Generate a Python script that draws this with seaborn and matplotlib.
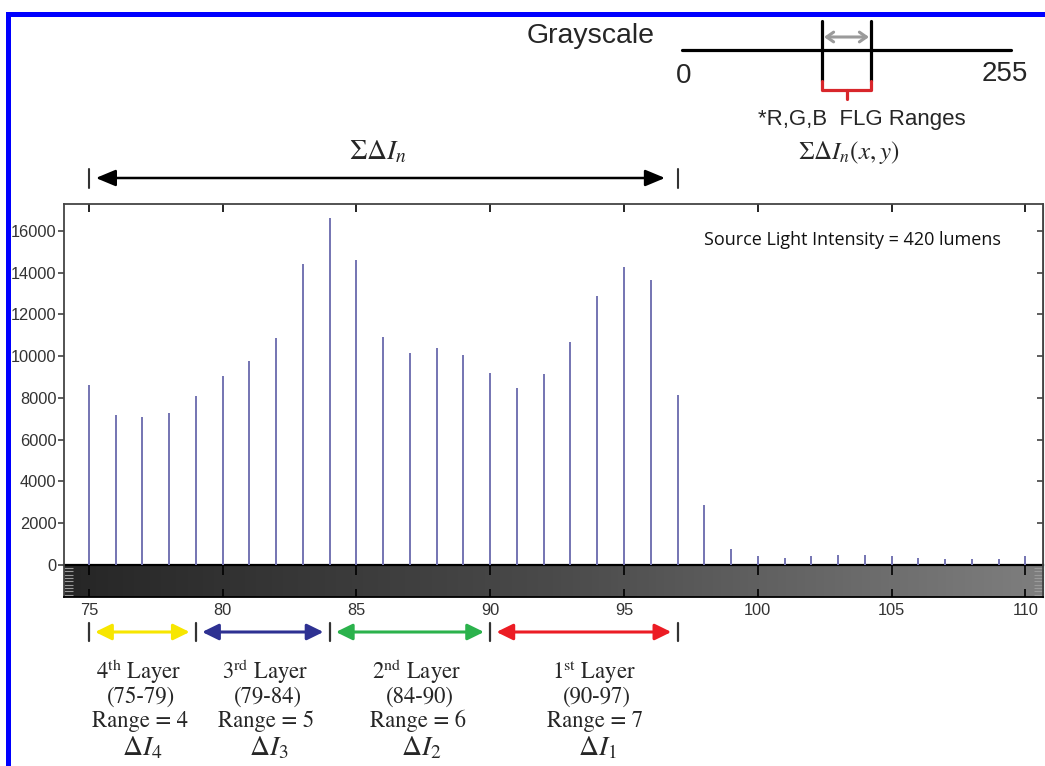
import numpy as np
import matplotlib
matplotlib.use("Agg")
import matplotlib.pyplot as plt
import matplotlib.transforms as mtransforms
from matplotlib.patches import Rectangle, FancyArrowPatch
from matplotlib.lines import Line2D
from matplotlib.colors import LinearSegmentedColormap
import seaborn as sns

# ---------------- data ----------------
gray_levels = list(range(75, 111))
pixel_counts = [8600, 7200, 7100, 7280, 8100, 9050, 9770, 10870, 14420, 16620,
                14600, 10920, 10160, 10400, 10060, 9200, 8480, 9150, 10680, 12890,
                14280, 13650, 8140, 2870, 770, 430, 340, 430, 480, 480,
                430, 340, 290, 290, 290, 430]
x_ticks = [75, 80, 85, 90, 95, 100, 105, 110]
y_ticks = [0, 2000, 4000, 6000, 8000, 10000, 12000, 14000, 16000]
layer_bounds = [(75, 79), (79, 84), (84, 90), (90, 97)]
layer_names = ["4$^{\\mathrm{th}}$ Layer", "3$^{\\mathrm{rd}}$ Layer",
               "2$^{\\mathrm{nd}}$ Layer", "1$^{\\mathrm{st}}$ Layer"]
layer_ranges = [4, 5, 6, 7]
layer_symbols = ["$\\Delta I_4$", "$\\Delta I_3$", "$\\Delta I_2$", "$\\Delta I_1$"]
layer_colors = ["#f7e600", "#2e3192", "#2bb24c", "#ec1c24"]
source_label = "Source Light Intensity = 420 lumens"

# ---------------- style ----------------
sns.set_style("white")
plt.rcParams["font.family"] = ["Liberation Sans", "DejaVu Sans"]
plt.rcParams["mathtext.fontset"] = "stix"

W, H = 1045, 766
fig = plt.figure(figsize=(W / 100, H / 100), dpi=100)


def fx(px):
    return px / W


def fy(py):
    return 1 - py / H


ax = fig.add_axes([fx(64), fy(597), (1043 - 64) / W, (597 - 204) / H])

xmin, xmax = 74.07, 110.66
ymin, ymax = -1533, 17293
px_per_unit = 26.75

# grayscale gradient strip below zero
cmap = LinearSegmentedColormap.from_list("g", ["#262626", "#4a4a4a", "#7e7e7e"])
ax.imshow(np.linspace(0, 1, 256).reshape(1, -1), cmap=cmap, aspect="auto",
          extent=[xmin, xmax, ymin, 0], zorder=0, interpolation="bilinear")

sns.barplot(x=gray_levels, y=pixel_counts, native_scale=True, width=0.075,
            color="#7777b4", saturation=1, linewidth=0, ax=ax, zorder=2)

ax.set_xlim(xmin, xmax)
ax.set_ylim(ymin, ymax)
ax.set_xlabel("")
ax.set_ylabel("")

ax.set_xticks(x_ticks)
ax.set_xticklabels([str(v) for v in x_ticks])
ax.set_yticks(y_ticks)
ax.set_yticklabels([str(v) for v in y_ticks])
ax.tick_params(axis="x", which="major", direction="in", top=True, bottom=True,
               length=6, width=1.2, color="black", labelsize=11.8,
               labelcolor="#333333", pad=4)
ax.tick_params(axis="y", which="major", direction="out", left=True, right=False,
               length=4, width=1.1, color="#333333", labelsize=11.8,
               labelcolor="#333333", pad=1.5)
ax.set_yticks(np.arange(-1420, -50, 160), minor=True)
ax.tick_params(axis="y", which="minor", direction="in", left=True, right=True,
               length=6.5, width=0.8, color="#9a9a9a")
for s in ax.spines.values():
    s.set_color("#444444")
    s.set_linewidth(1.3)
ax.spines["bottom"].set_color("black")

# inward ticks on right side
sec_y = ax.secondary_yaxis("right")
sec_y.set_yticks(y_ticks)
sec_y.tick_params(direction="in", length=4, width=1.1, color="#333333",
                  labelright=False)
sec_y.spines["right"].set_color("#444444")

# zero line with ticks pointing down into the gradient strip
zero_loc = (0 - ymin) / (ymax - ymin)
sec_x = ax.secondary_xaxis(zero_loc)
sec_x.set_xticks(x_ticks)
sec_x.tick_params(direction="out", length=7, width=1.2, color="black",
                  labelbottom=False, labeltop=False)
sec_x.spines["bottom"].set_color("black")
sec_x.spines["bottom"].set_linewidth(1.6)

fig.text(fx(852), fy(240), source_label, ha="center", va="center",
         fontsize=13, family=["Open Sans", "DejaVu Sans"], color="#111111")

# ---------------- annotations in data-x / figure-y ----------------
bt = mtransforms.blended_transform_factory(ax.transData, fig.transFigure)

# top ΣΔI_n arrow
top_y = fy(178)
for xv in (layer_bounds[0][0], layer_bounds[-1][1]):
    ax.plot([xv, xv], [fy(169), fy(188)], transform=bt, color="#333333",
            lw=1.5, clip_on=False)
ax.annotate("", xy=(layer_bounds[-1][1], top_y), xytext=(layer_bounds[0][0], top_y),
            xycoords=bt, textcoords=bt, annotation_clip=False,
            arrowprops=dict(arrowstyle="<|-|>,head_length=0.6,head_width=0.25",
                            mutation_scale=20, color="black", lw=1.8,
                            shrinkA=5, shrinkB=9))
ax.text((layer_bounds[0][0] + layer_bounds[-1][1]) / 2 - 0.2, fy(152),
        "$\\Sigma\\Delta I_n$", transform=bt, ha="center", va="center",
        fontsize=20)

# bottom layer arrows
arr_y = fy(632)
label_shift_px = [-4, 2, 7, 10]
bounds_x = sorted({b for pair in layer_bounds for b in pair})
for xv in bounds_x:
    ax.plot([xv, xv], [fy(623), fy(641)], transform=bt, color="#333333",
            lw=1.6, clip_on=False)
for (a, b), col, name, rng, sym, sh in zip(layer_bounds, layer_colors, layer_names,
                                           layer_ranges, layer_symbols,
                                           label_shift_px):
    ax.annotate("", xy=(b, arr_y), xytext=(a, arr_y), xycoords=bt, textcoords=bt,
                annotation_clip=False,
                arrowprops=dict(arrowstyle="<|-|>,head_length=0.55,head_width=0.27",
                                mutation_scale=18, color=col, lw=2.2,
                                shrinkA=4.5, shrinkB=4.5))
    cx = (a + b) / 2 + sh / px_per_unit
    ax.text(cx, fy(672), name, transform=bt, ha="center", va="center",
            fontsize=16.3, family="STIXGeneral")
    ax.text(cx + 0.1, fy(697), f"({a}-{b})", transform=bt, ha="center",
            va="center", fontsize=16.3, family="STIXGeneral")
    ax.text(cx + 0.05, fy(721), f"Range = {rng}", transform=bt, ha="center",
            va="center", fontsize=16.3, family="STIXGeneral")
    ax.text(cx + 0.15, fy(748), sym, transform=bt, ha="center", va="center",
            fontsize=20)

# ---------------- top-right grayscale diagram (figure coords) ----------------
def fline(xs, ys, **kw):
    fig.add_artist(Line2D([fx(v) for v in xs], [fy(v) for v in ys],
                          transform=fig.transFigure, **kw))


fig.text(fx(591), fy(36), "Grayscale", ha="center", va="center", fontsize=20.5)
fline([682, 1011], [50, 50], color="black", lw=2.3)
fline([822, 822], [21, 81], color="black", lw=2.3)
fline([871, 871], [21, 81], color="black", lw=2.3)
red = "#d8262b"
fline([822, 822, 871, 871], [81, 90, 90, 81], color=red, lw=2.3)
fline([846.5, 846.5], [90, 99], color=red, lw=2.3)
fig.add_artist(FancyArrowPatch(
    (fx(824), fy(37)), (fx(869), fy(37)), transform=fig.transFigure,
    arrowstyle="<->,head_length=5,head_width=3.5", color="#9a9a9a", lw=2.2,
    shrinkA=0, shrinkB=0))
fig.text(fx(684), fy(76), "0", ha="center", va="center", fontsize=20)
fig.text(fx(1005), fy(74), "255", ha="center", va="center", fontsize=20)
fig.text(fx(862), fy(119), "*R,G,B  FLG Ranges", ha="center", va="center",
         fontsize=16)
fig.text(fx(849), fy(152), "$\\Sigma\\Delta I_n(x, y)$", ha="center",
         va="center", fontsize=18)

# ---------------- blue frame ----------------
fig.add_artist(Rectangle((fx(6), 0), 5 / W, fy(12), transform=fig.transFigure,
                         color="#0000ff", lw=0))
fig.add_artist(Rectangle((fx(6), fy(17)), 1 - fx(6), 5 / H,
                         transform=fig.transFigure, color="#0000ff", lw=0))

fig.savefig("out.png", dpi=100)
